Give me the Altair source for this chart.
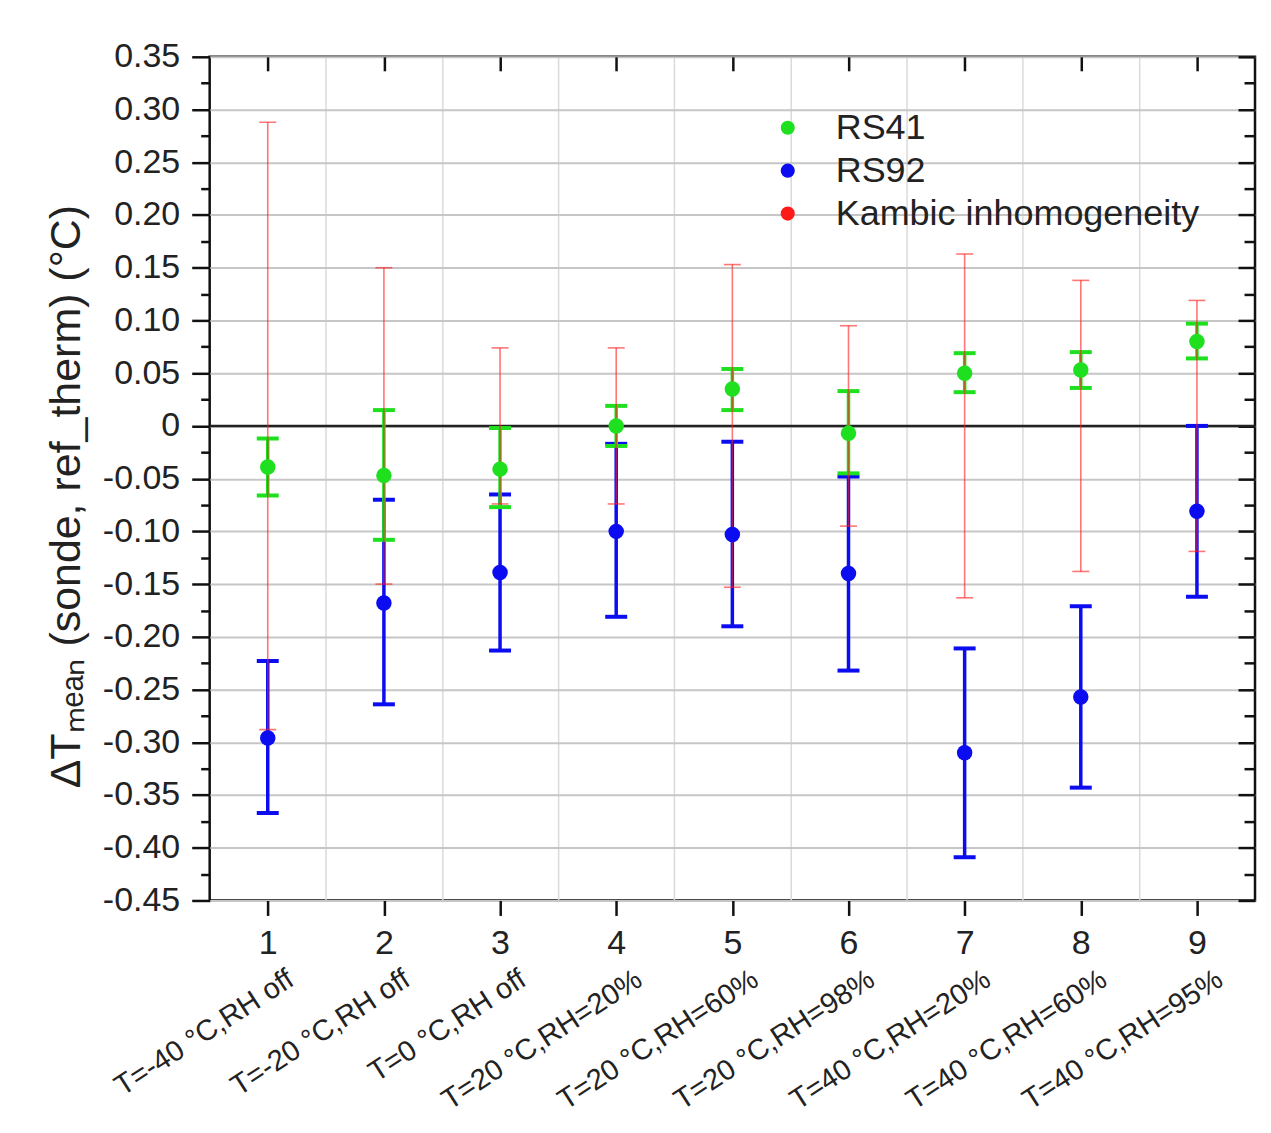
import altair as alt
import pandas as pd

# ---------------- data ----------------
test_no = [1, 2, 3, 4, 5, 6, 7, 8, 9]
conditions = [
    "T=-40 °C,RH off", "T=-20 °C,RH off", "T=0 °C,RH off",
    "T=20 °C,RH=20%", "T=20 °C,RH=60%", "T=20 °C,RH=98%",
    "T=40 °C,RH=20%", "T=40 °C,RH=60%", "T=40 °C,RH=95%",
]
rs41_mean = [-0.039, -0.047, -0.041, 0.000, 0.035, -0.007, 0.050, 0.053, 0.080]
rs41_lo = [-0.066, -0.108, -0.077, -0.019, 0.015, -0.045, 0.032, 0.036, 0.064]
rs41_hi = [-0.012, 0.015, -0.002, 0.019, 0.054, 0.033, 0.069, 0.070, 0.097]
rs92_mean = [-0.296, -0.168, -0.139, -0.100, -0.103, -0.140, -0.310, -0.257, -0.081]
rs92_lo = [-0.367, -0.264, -0.213, -0.181, -0.190, -0.232, -0.409, -0.343, -0.162]
rs92_hi = [-0.223, -0.070, -0.065, -0.017, -0.015, -0.048, -0.211, -0.171, 0.000]
kambic_center = [0.0, 0.0, 0.0, 0.0, 0.0, 0.0, 0.0, 0.0, 0.0]
kambic_half = [0.288, 0.150, 0.074, 0.074, 0.153, 0.095, 0.163, 0.138, 0.119]

series_names = ["RS41", "RS92", "Kambic inhomogeneity"]
series_colors = ["#1fe01f", "#0c0cf0", "#ff1a1a"]

y_major = [round(-0.45 + 0.05 * i, 2) for i in range(17)]
y_minor = [round(-0.425 + 0.05 * i, 3) for i in range(16)]
x_grid = [1.5, 2.5, 3.5, 4.5, 5.5, 6.5, 7.5, 8.5]
zero_line = [0.0]

FONT = "Liberation Sans"
GREEN, BLUE, RED = series_colors

df = pd.DataFrame({
    "test": test_no,
    "cond": conditions,
    "rs41_mean": rs41_mean, "rs41_lo": rs41_lo, "rs41_hi": rs41_hi,
    "rs92_mean": rs92_mean, "rs92_lo": rs92_lo, "rs92_hi": rs92_hi,
})
df["k_lo"] = [c - h for c, h in zip(kambic_center, kambic_half)]
df["k_hi"] = [c + h for c, h in zip(kambic_center, kambic_half)]

pts = pd.concat([
    pd.DataFrame({"test": test_no, "val": rs92_mean, "series": "RS92"}),
    pd.DataFrame({"test": test_no, "val": rs41_mean, "series": "RS41"}),
])

XS = alt.Scale(domain=[0.5, 9.5], nice=False, zero=False)
YS = alt.Scale(domain=[-0.45, 0.35], nice=False, zero=False)

base = alt.Chart(df)


def X(field="test", axis=None):
    return alt.X(f"{field}:Q", scale=XS, axis=axis)


def Y(field="rs41_mean", axis=None):
    return alt.Y(f"{field}:Q", scale=YS, axis=axis)


ylabel_expr = ("abs(datum.value) < 1e-9 ? '0' : "
               "replace(format(datum.value, '.2f'), '\u2212', '-')")

# ---------------- axes layers ----------------
ax_main = base.mark_point(opacity=0).encode(
    x=X(axis=alt.Axis(orient="bottom", values=test_no, format="d",
                      tickSize=15, tickWidth=2.5, tickColor="#111",
                      domain=False, grid=False, labelFont=FONT,
                      labelFontSize=34, labelColor="#222", labelPadding=11,
                      title=None)),
    y=Y(axis=alt.Axis(orient="left", values=y_major, labelExpr=ylabel_expr,
                      tickSize=18, tickWidth=2.5, tickColor="#111",
                      domain=False, grid=True, gridColor="#c6c6c6",
                      gridWidth=2, labelFont=FONT, labelFontSize=34,
                      labelColor="#222", labelPadding=12,
                      title="ΔTₘₑₐₙ (sonde, ref_therm) (°C)",
                      titleFont=FONT, titleFontSize=43,
                      titleFontWeight="normal", titleColor="#222",
                      titleX=-143, titleY=440, titleAngle=270,
                      titleAlign="center", titleBaseline="middle")),
)

ax_vgrid = base.mark_point(opacity=0).encode(
    x=X(axis=alt.Axis(orient="bottom", values=x_grid, grid=True,
                      gridColor="#dadada", gridWidth=1.5, ticks=False,
                      labels=False, domain=False, title=None)),
    y=Y(),
)

ax_left_minor = base.mark_point(opacity=0).encode(
    x=X(),
    y=Y(axis=alt.Axis(orient="left", values=y_minor, tickSize=9,
                      tickWidth=2.5, tickColor="#111", labels=False,
                      domain=False, grid=False, title=None)),
)

ax_right_major = base.mark_point(opacity=0).encode(
    x=X(),
    y=Y(axis=alt.Axis(orient="right", offset=-17, values=y_major,
                      tickSize=17, tickWidth=2.5, tickColor="#111",
                      labels=False, domain=False, grid=False, title=None)),
)

ax_right_minor = base.mark_point(opacity=0).encode(
    x=X(),
    y=Y(axis=alt.Axis(orient="right", offset=-11, values=y_minor,
                      tickSize=11, tickWidth=2.5, tickColor="#111",
                      labels=False, domain=False, grid=False, title=None)),
)

ax_top = base.mark_point(opacity=0).encode(
    x=X(axis=alt.Axis(orient="top", offset=-14, values=test_no,
                      tickSize=14, tickWidth=2.5, tickColor="#111",
                      labels=False, domain=False, grid=False, title=None)),
    y=Y(),
)

cond_expr = "[" + ",".join("'" + c + "'" for c in conditions) + "][datum.value - 1]"
ax_cond = base.mark_point(opacity=0).encode(
    x=X(axis=alt.Axis(orient="bottom", offset=60, values=test_no,
                      labelExpr=cond_expr, labelAngle=327,
                      labelAlign="right", labelBaseline="top",
                      labelOffset=15, labelPadding=4, labelFont=FONT,
                      labelFontSize=29, labelColor="#222", ticks=False,
                      tickSize=0, domain=False, grid=False, title=None,
                      labelOverlap=False, labelLimit=500, labelBound=False)),
    y=Y(),
)

# ---------------- data layers ----------------
zero = alt.Chart(pd.DataFrame({"z": zero_line})).mark_rule(
    color="#222", strokeWidth=2.5
).encode(y=Y("z"))

blue_bar = base.mark_rule(color=BLUE, strokeWidth=3.5).encode(
    x=X(), y=Y("rs92_lo"), y2="rs92_hi")
blue_cap_lo = base.mark_tick(color=BLUE, orient="horizontal", size=22,
                             thickness=4, opacity=1).encode(x=X(), y=Y("rs92_lo"))
blue_cap_hi = base.mark_tick(color=BLUE, orient="horizontal", size=22,
                             thickness=4, opacity=1).encode(x=X(), y=Y("rs92_hi"))

green_bar = base.mark_rule(color=GREEN, strokeWidth=3.5).encode(
    x=X(), y=Y("rs41_lo"), y2="rs41_hi")
green_cap_lo = base.mark_tick(color=GREEN, orient="horizontal", size=22,
                              thickness=4, opacity=1).encode(x=X(), y=Y("rs41_lo"))
green_cap_hi = base.mark_tick(color=GREEN, orient="horizontal", size=22,
                              thickness=4, opacity=1).encode(x=X(), y=Y("rs41_hi"))

red_bar = base.mark_rule(color=RED, strokeWidth=1.6, opacity=0.6).encode(
    x=X(), y=Y("k_lo"), y2="k_hi")
red_cap_lo = base.mark_tick(color=RED, orient="horizontal", size=17,
                            thickness=1.6, opacity=0.6).encode(x=X(), y=Y("k_lo"))
red_cap_hi = base.mark_tick(color=RED, orient="horizontal", size=17,
                            thickness=1.6, opacity=0.6).encode(x=X(), y=Y("k_hi"))

points = alt.Chart(pts).mark_circle(size=240, opacity=1).encode(
    x=X(), y=Y("val"),
    color=alt.Color("series:N",
                    scale=alt.Scale(domain=series_names, range=series_colors),
                    legend=alt.Legend(orient="none", legendX=561, legendY=53,
                                      title=None, symbolType="circle",
                                      symbolSize=200, symbolStrokeWidth=0,
                                      labelFont=FONT, labelFontSize=36,
                                      labelColor="#222", labelOffset=30,
                                      rowPadding=7, padding=0,
                                      labelLimit=600)),
)

chart = alt.layer(
    ax_vgrid, ax_main, ax_left_minor, ax_right_major, ax_right_minor, ax_top,
    ax_cond, zero,
    blue_bar, blue_cap_lo, blue_cap_hi,
    green_bar, green_cap_lo, green_cap_hi,
    red_bar, red_cap_lo, red_cap_hi,
    points,
).resolve_scale(
    x="independent", y="independent"
).properties(
    width=1047, height=845,
    padding={"left": 202, "top": 48, "right": 8, "bottom": 229},
    autosize=alt.AutoSizeParams(type="none"),
    background="white",
).configure_view(
    stroke="#111", strokeWidth=2.5, fill="white"
)

chart.save("out.html", embed_options={"renderer": "svg", "actions": False})
